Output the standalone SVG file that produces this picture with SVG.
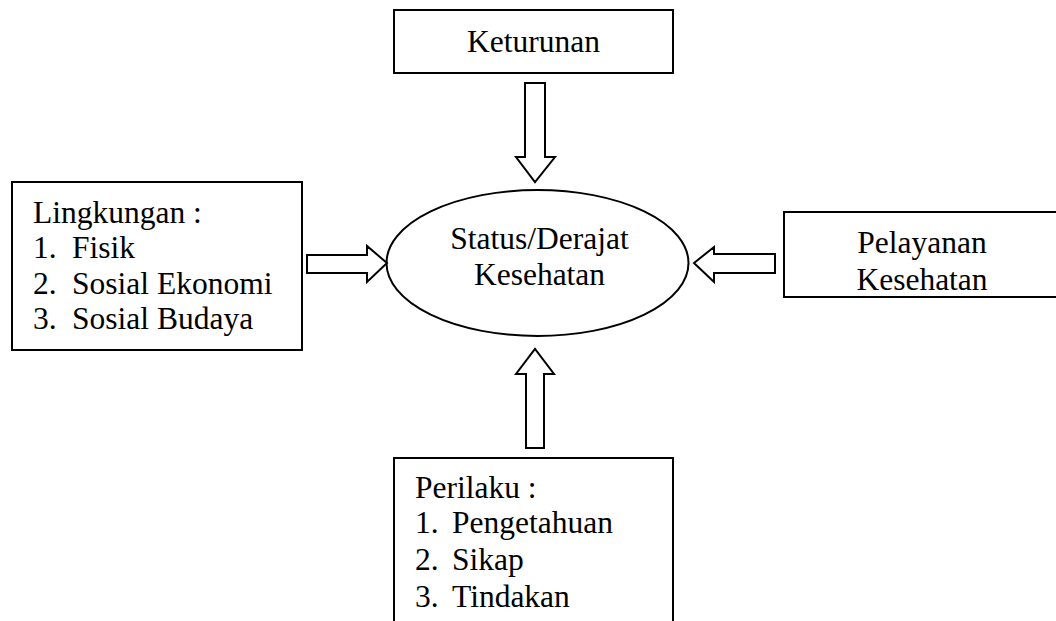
<svg xmlns="http://www.w3.org/2000/svg" width="1056" height="621" viewBox="0 0 1056 621">
<style>
.box{fill:#fff;stroke:#000;stroke-width:2}
.arr{fill:#fff;stroke:#000;stroke-width:2;stroke-linejoin:miter}
text{font-family:"Liberation Serif","Times New Roman",serif;font-size:31.5px;fill:#000}
.c{text-anchor:middle}
</style>
<rect width="1056" height="621" fill="#fff"/>
<g id="keturunan">
<rect class="box" x="394" y="10" width="279" height="63"/>
<text class="c" x="533.5" y="52">Keturunan</text>
</g>
<g id="status">
<ellipse class="box" cx="537.5" cy="263" rx="151" ry="73"/>
<text class="c" x="539.5" y="249">Status/Derajat</text>
<text class="c" x="539.5" y="285">Kesehatan</text>
</g>
<g id="lingkungan">
<rect class="box" x="12" y="182" width="290" height="168"/>
<text x="33" y="223">Lingkungan :</text>
<text x="33" y="258">1.</text><text x="72" y="258">Fisik</text>
<text x="33" y="294">2.</text><text x="72" y="294">Sosial Ekonomi</text>
<text x="33" y="329">3.</text><text x="72" y="329">Sosial Budaya</text>
</g>
<g id="pelayanan">
<rect class="box" x="784" y="212" width="290" height="85"/>
<text class="c" x="922" y="253">Pelayanan</text>
<text class="c" x="922" y="290">Kesehatan</text>
</g>
<g id="perilaku">
<rect class="box" x="394" y="458" width="279" height="180"/>
<text x="415" y="498">Perilaku :</text>
<text x="415" y="533">1.</text><text x="452" y="533">Pengetahuan</text>
<text x="415" y="570">2.</text><text x="452" y="570">Sikap</text>
<text x="415" y="607">3.</text><text x="452" y="607">Tindakan</text>
</g>
<g id="connectors">
<polygon class="arr" points="525,83 545,83 545,157 555,157 535,182 516,157 525,157"/>
<polygon class="arr" points="307,255 367,255 367,246 387,263 367,282 367,273 307,273"/>
<polygon class="arr" points="775,254 714,254 714,247 694,263 714,282 714,273 775,273"/>
<polygon class="arr" points="526,448 544,448 544,374 554,374 535,349 516,374 526,374"/>
</g>
</svg>
